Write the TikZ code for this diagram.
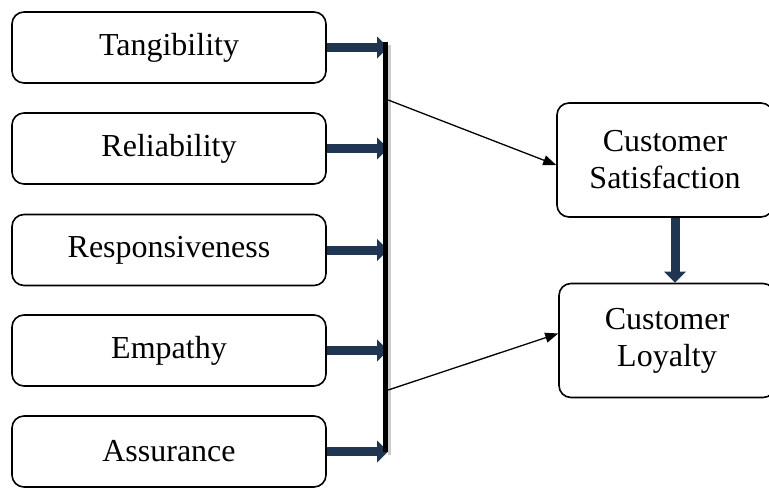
\documentclass[tikz,border=0pt]{standalone}
\usepackage{fontspec}
\setmainfont{Liberation Serif}
\usetikzlibrary{arrows.meta,calc}
\definecolor{navy}{HTML}{1F3552}
\begin{document}
\begin{tikzpicture}[x=1pt,y=-1pt,
  box/.style={draw=black, line width=1.6pt, rounded corners=12pt, align=center,
    font=\fontsize{32}{37}\selectfont, inner sep=0pt},
  factor/.style={box, minimum width=314pt, minimum height=71pt},
  outcome/.style={box, minimum width=216pt, minimum height=114pt},
  thick arrow/.style={draw=navy, line width=9pt,
    -{Triangle[length=11pt,width=21pt,fill=navy]}},
  thin arrow/.style={draw=black, line width=1.3pt,
    -{Triangle[length=13pt,width=10pt]}}]
\useasboundingbox (0,0) rectangle (769,488);
\clip (0,0) rectangle (769,488);

% five service-quality dimensions
\node[factor] (tang) at (169,47.5)  {Tangibility};
\node[factor] (reli) at (169,148.5) {Reliability};
\node[factor] (resp) at (169,250)   {Responsiveness};
\node[factor] (empa) at (169,350.5) {Empathy};
\node[factor] (assu) at (169,451.5) {Assurance};

% outcome boxes
\node[outcome] (sat) at (665,160) {Customer\\Satisfaction};
\node[outcome] (loy) at (667,340.5) {Customer\\Loyalty};

% collecting bar with a soft shadow
\fill[black!20] (388,45) rectangle (390.5,455);
\node[fill=black, minimum width=5pt, minimum height=410pt, inner sep=0pt]
  (bar) at (385.5,247) {};

% thick arrows into the bar (tips tucked under it)
\foreach \n in {tang,reli,resp,empa,assu}
  \draw[thick arrow] (\n.east) -- (\n.east -| bar.east);
\node[fill=black, minimum width=5pt, minimum height=410pt, inner sep=0pt] at (bar) {};

% from the bar to the outcomes
\coordinate (b1) at (bar.east |- 0,100);
\coordinate (b2) at (bar.east |- 0,390);
\draw[thin arrow] (b1) -- ($(sat.west)+(0,5)$);
\draw[thin arrow] (b2) -- ($(loy.west)+(0,-7)$);

% satisfaction leads to loyalty
\draw[thick arrow] (sat.south -| 675,0) -- (loy.north -| 675,0);
\end{tikzpicture}
\end{document}
